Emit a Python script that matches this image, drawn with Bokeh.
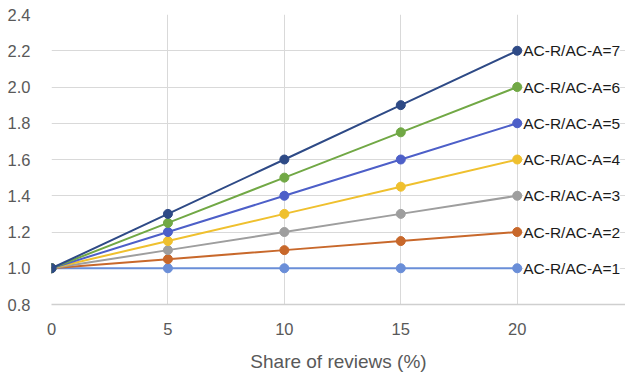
from bokeh.plotting import figure
from bokeh.models import ColumnDataSource, LabelSet, FixedTicker, Range1d, CustomJSTickFormatter
from bokeh.core.properties import value
from bokeh.embed import file_html
from bokeh.resources import INLINE

# Share of reviews (%)
share = [0, 5, 10, 15, 20]

# Relative value for each AC-R/AC-A ratio
ratio_1 = [1.0, 1.0, 1.0, 1.0, 1.0]
ratio_2 = [1.0, 1.05, 1.1, 1.15, 1.2]
ratio_3 = [1.0, 1.1, 1.2, 1.3, 1.4]
ratio_4 = [1.0, 1.15, 1.3, 1.45, 1.6]
ratio_5 = [1.0, 1.2, 1.4, 1.6, 1.8]
ratio_6 = [1.0, 1.25, 1.5, 1.75, 2.0]
ratio_7 = [1.0, 1.3, 1.6, 1.9, 2.2]

series_names = ["AC-R/AC-A=1", "AC-R/AC-A=2", "AC-R/AC-A=3", "AC-R/AC-A=4",
                "AC-R/AC-A=5", "AC-R/AC-A=6", "AC-R/AC-A=7"]
series_values = [ratio_1, ratio_2, ratio_3, ratio_4, ratio_5, ratio_6, ratio_7]
series_colors = ["#6a8ed8", "#c8682b", "#9e9e9e", "#efc02e",
                 "#4d5fc8", "#71a845", "#2e4a86"]

x_ticks = [0, 5, 10, 15, 20]
y_ticks = [0.8, 1.0, 1.2, 1.4, 1.6, 1.8, 2.0, 2.2, 2.4]

p = figure(width=625, height=379, output_backend="svg", toolbar_location=None,
           x_range=Range1d(0, 24.65), y_range=Range1d(0.8, 2.4),
           min_border_left=51, min_border_right=0, min_border_top=14,
           min_border_bottom=75)
p.outline_line_color = None
p.background_fill_color = "white"
p.border_fill_color = "white"

for vals, col in zip(series_values, series_colors):
    p.line(share, vals, line_color=col, line_width=2)
    p.scatter(share, vals, size=9, fill_color=col, line_color=col)

# End-of-line labels
end_src = ColumnDataSource(dict(
    x=[share[-1]] * len(series_values),
    y=[v[-1] for v in series_values],
    name=series_names,
))
labels = LabelSet(x="x", y="y", text="name", source=end_src,
                  x_offset=6, y_offset=0, text_baseline="middle",
                  text_font=value("Liberation Sans"), text_font_size=value("15.5px"),
                  text_color="#1a1a1a",
                  background_fill_color="white", background_fill_alpha=0.9)
p.add_layout(labels)

# Axes
p.xaxis.ticker = FixedTicker(ticks=x_ticks)
p.yaxis.ticker = FixedTicker(ticks=y_ticks)
p.yaxis.formatter = CustomJSTickFormatter(code="return tick.toFixed(1);")

for ax in (p.xaxis, p.yaxis):
    ax.major_tick_line_color = None
    ax.minor_tick_line_color = None
    ax.major_label_text_font = "Liberation Sans"
    ax.major_label_text_font_size = "16.5px"
    ax.major_label_text_color = "#595959"

p.yaxis.axis_line_color = None
p.yaxis.major_label_standoff = 15
p.xaxis.axis_line_color = "#cfcfcf"
p.xaxis.axis_line_width = 1.5
p.xaxis.major_label_standoff = 12

p.xaxis.axis_label = "Share of reviews (%)"
p.xaxis.axis_label_text_font = "Liberation Sans"
p.xaxis.axis_label_text_font_size = "19px"
p.xaxis.axis_label_text_font_style = "normal"
p.xaxis.axis_label_text_color = "#595959"
p.xaxis.axis_label_standoff = 13

p.xgrid.grid_line_color = "#d9d9d9"
p.ygrid.grid_line_color = "#d9d9d9"
p.xgrid.grid_line_width = 1
p.ygrid.grid_line_width = 1

open("out.html", "w").write(file_html(p, INLINE))
